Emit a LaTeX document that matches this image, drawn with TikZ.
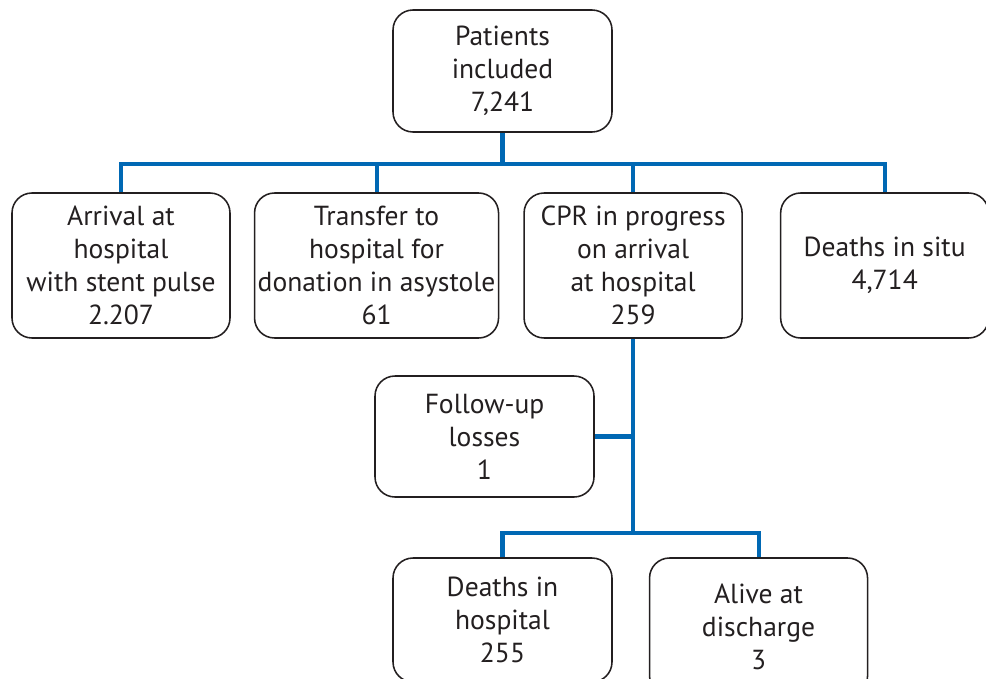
\documentclass[tikz,border=0pt]{standalone}
\usepackage{fontspec}
\setmainfont{PT Sans}
\usepackage{tikz}
\usetikzlibrary{positioning}
\definecolor{linkblue}{RGB}{0,104,180}
\definecolor{boxtext}{RGB}{35,31,32}

\begin{document}
\begin{tikzpicture}[
  node distance=0.6cm,
  box/.style={rectangle, rounded corners=0.5cm, draw=boxtext, line width=1.1pt,
              text=boxtext, align=center, inner sep=0pt,
              font=\fontsize{19.6}{23.5}\selectfont},
  link/.style={draw=linkblue, line width=2.9pt},
]
  \clip (0,0) rectangle (24.65,-16.975);

  \node[box, minimum width=5.475cm, minimum height=3.05cm] (patients) at (12.5625,-1.775)
    {Patients\\included\\7,241};

  \node[box, minimum width=5.45cm, minimum height=3.625cm] (arrival) at (3.025,-6.6375)
    {Arrival at\\hospital\\with stent pulse\\2.207};
  \node[box, minimum width=6.1cm, minimum height=3.625cm, right=0.575cm of arrival] (transfer)
    {Transfer to\\hospital for\\donation in asystole\\61};
  \node[box, minimum width=5.45cm, minimum height=3.625cm, right=0.6cm of transfer] (cpr)
    {CPR in progress\\on arrival\\at hospital\\259};
  \node[box, minimum width=5.2cm, minimum height=3.625cm, right=0.925cm of cpr] (situ)
    {Deaths in situ\\4,714};

  \node[box, minimum width=5.475cm, minimum height=3.025cm] (followup) at (12.1125,-10.9125)
    {Follow-up\\losses\\1};

  \node[box, minimum width=5.475cm, minimum height=3.1cm] (inhospital) at (12.5625,-15.5)
    {Deaths in\\hospital\\255};
  \node[box, minimum width=5.45cm, minimum height=3.45cm,
        right=0.9cm of inhospital.north east, anchor=north west] (alive)
    {Alive at\\discharge\\3};

  \path (patients.south) ++(0,-0.775) coordinate (hub);
  \path (cpr.south) ++(0,-4.85) coordinate (split);

  \draw[link] (patients) -- (hub);
  \draw[link] (arrival.north) -- (arrival.north |- hub) -- (situ.north |- hub) -- (situ.north);
  \draw[link] (transfer.north) -- (transfer.north |- hub);
  \draw[link] (cpr.north) -- (cpr.north |- hub);
  \draw[link] (cpr.south) -- (split);
  \draw[link] (followup.east) -- (followup.east -| cpr.south);
  \draw[link] (inhospital.north) -- (inhospital.north |- split) -- (alive.north |- split) -- (alive.north);
\end{tikzpicture}
\end{document}
